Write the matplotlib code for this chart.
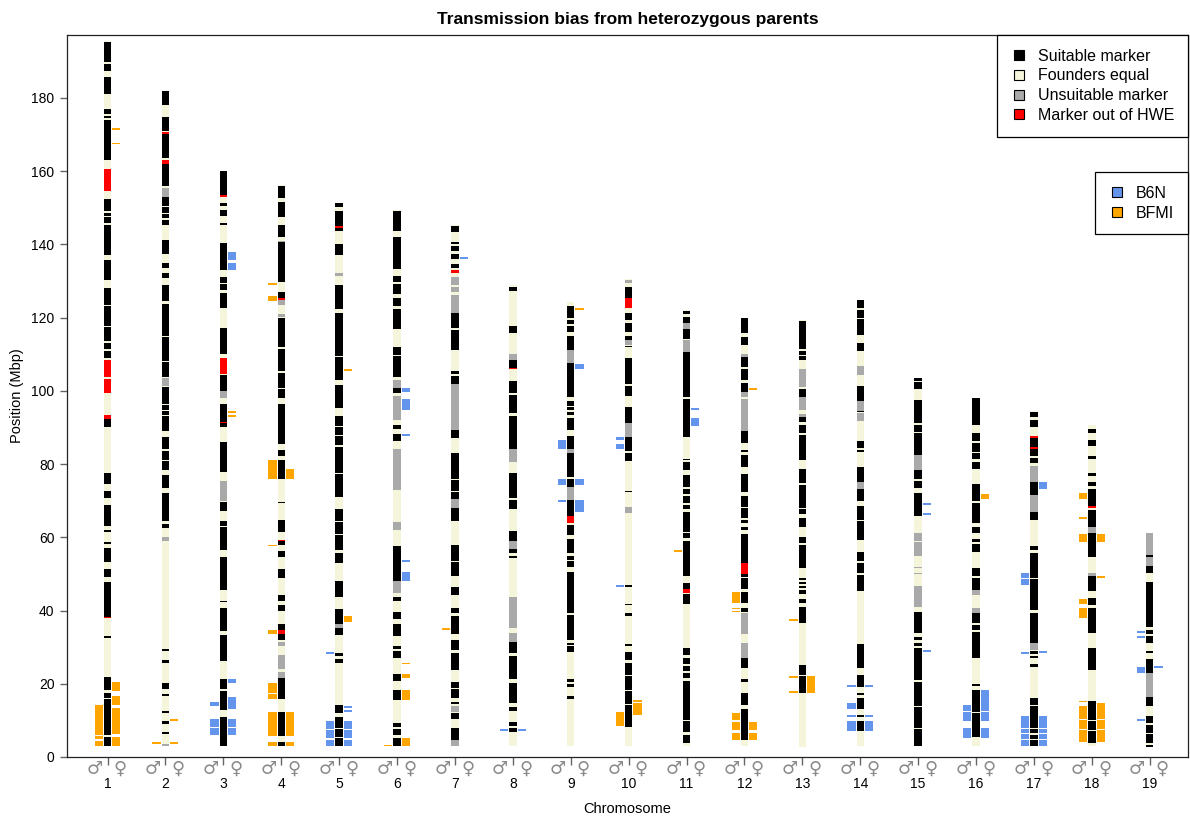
import matplotlib
matplotlib.use("Agg")
import matplotlib.pyplot as plt
from matplotlib.lines import Line2D

plt.rcParams['font.family'] = ['Liberation Sans', 'DejaVu Sans']

# chromosome extent (Mbp)
chromosomes = list(range(1, 20))
chr_start = [3.0, 3.0, 3.0, 2.9, 3.0, 2.9, 3.0, 3.0, 3.0, 3.0, 3.0, 3.0, 2.7, 3.0, 3.0, 3.0, 3.0, 3.0, 2.8]
chr_end = [195.5, 182.0, 160.0, 156.2, 151.3, 149.3, 145.3, 129.0, 124.2, 130.5,
           122.0, 120.0, 119.3, 124.8, 103.6, 98.1, 94.5, 90.8, 61.3]

# marker segments (Mbp)
suitable = {
    1: [(189.9, 195.4), (187.3, 189.3), (181.2, 185.8), (175.5, 176.9), (174.4, 175.2), (163.0, 174.1),
        (149.0, 152.4), (147.9, 148.6), (145.8, 147.6), (137.0, 145.4), (130.4, 135.7), (123.5, 128.1),
        (117.8, 123.2), (113.5, 117.5), (111.3, 113.2), (108.9, 111.0), (90.2, 92.2), (74.5, 77.6),
        (70.7, 72.6), (63.1, 68.7), (61.5, 62.1), (58.1, 58.6), (53.3, 57.1), (49.2, 51.4), (38.3, 47.8),
        (32.4, 33.0), (18.2, 21.9), (16.0, 17.6), (6.0, 15.7), (3.0, 5.5)],
    2: [(178.2, 182.0), (171.0, 174.9), (163.5, 170.2), (156.0, 162.0), (150.6, 152.9), (148.7, 150.3),
        (147.1, 148.4), (145.3, 146.8), (137.4, 141.3), (133.6, 134.9), (130.7, 132.3), (124.5, 129.0),
        (115.0, 123.6), (108.2, 114.7), (103.8, 107.9), (96.5, 101.1), (94.8, 96.2), (93.5, 94.5),
        (89.0, 93.2), (84.0, 87.4), (81.2, 83.7), (78.3, 80.9), (73.5, 77.0), (64.4, 72.0), (62.6, 63.6),
        (29.0, 29.5), (25.8, 26.4), (18.5, 20.2), (16.6, 17.2), (12.1, 12.6), (9.0, 9.7), (6.3, 6.8)],
    3: [(153.4, 160.0), (150.4, 151.3), (147.7, 149.4), (145.3, 145.8), (132.9, 140.5), (129.5, 131.1),
        (127.5, 129.2), (122.6, 126.6), (110.2, 117.2), (100.1, 104.2), (91.6, 96.5), (90.2, 91.2),
        (77.9, 85.9), (67.2, 69.7), (63.1, 64.4), (56.4, 62.8), (45.7, 54.5), (42.2, 42.5), (34.3, 40.6),
        (26.1, 33.3), (18.5, 21.4), (12.8, 17.9), (3.0, 10.9)],
    4: [(152.8, 156.0), (147.4, 151.7), (142.0, 145.3), (129.7, 140.6), (125.4, 127.0), (112.0, 120.0),
        (105.5, 111.4), (100.7, 104.8), (98.0, 100.5), (85.6, 96.4), (82.2, 83.8), (75.8, 81.1),
        (69.3, 69.7), (61.5, 64.7), (57.9, 59.0), (54.5, 56.3), (48.8, 51.3), (42.5, 44.3), (39.8, 41.6),
        (34.8, 36.2), (31.9, 33.5), (15.8, 21.7), (5.6, 12.4), (2.9, 4.0)],
    5: [(150.3, 151.2), (143.6, 149.0), (137.2, 140.2), (122.4, 128.8), (109.5, 121.4), (103.0, 109.3),
        (95.3, 101.5), (90.4, 93.2), (87.9, 90.2), (85.1, 87.7), (77.6, 84.6), (71.1, 77.3), (64.5, 67.7),
        (61.0, 64.2), (56.6, 60.6), (52.9, 55.6), (43.7, 48.0), (36.2, 40.3), (33.2, 35.1), (27.6, 28.4),
        (25.7, 26.8), (12.1, 14.2), (8.0, 11.0), (5.5, 7.7), (3.0, 5.2)],
    6: [(143.8, 149.0), (133.3, 142.0), (129.7, 131.3), (126.5, 129.1), (123.2, 125.4), (116.8, 122.4),
        (109.8, 112.0), (103.9, 109.5), (99.4, 100.9), (89.7, 90.8), (86.2, 88.1), (48.0, 57.6),
        (42.5, 43.8), (37.8, 39.5), (33.0, 36.2), (29.5, 30.4), (27.1, 29.0), (20.7, 22.8), (15.6, 18.2),
        (8.1, 9.4), (6.0, 7.6), (2.9, 5.1)],
    7: [(143.5, 145.0), (140.1, 140.7), (138.3, 139.6), (135.9, 137.4), (133.6, 134.7), (117.1, 121.4),
        (111.1, 116.5), (104.6, 105.4), (101.9, 104.1), (87.2, 89.2), (76.0, 82.9), (72.6, 75.7),
        (70.4, 72.4), (64.4, 67.9), (53.6, 57.9), (49.4, 53.2), (44.3, 46.5), (39.2, 40.8), (33.5, 38.6),
        (29.1, 31.9), (23.7, 28.4), (18.8, 20.5), (16.1, 18.6), (14.5, 15.0), (10.4, 12.1), (4.7, 7.8)],
    8: [(127.2, 128.5), (115.7, 117.6), (106.3, 108.4), (99.4, 102.6), (94.0, 98.8), (84.0, 93.2),
        (70.7, 77.7), (67.7, 70.1), (59.0, 61.7), (55.7, 56.8), (54.3, 54.9), (28.4, 31.3), (21.2, 27.7),
        (14.7, 20.1), (12.5, 13.6), (8.5, 9.6), (6.9, 8.0)],
    9: [(119.8, 123.1), (118.2, 119.3), (116.0, 117.6), (111.1, 114.9), (98.3, 107.6), (95.9, 97.2),
        (94.8, 95.7), (93.5, 94.3), (89.2, 92.7), (84.0, 87.8), (76.4, 82.9), (73.7, 75.8), (65.7, 70.1),
        (60.6, 63.3), (55.7, 59.5), (53.8, 54.9), (52.0, 53.6), (39.4, 50.5), (31.9, 38.9), (30.6, 31.0),
        (28.6, 30.2), (20.5, 21.2), (19.1, 19.9), (15.9, 16.7)],
    10: [(125.3, 128.5), (119.3, 121.3), (116.2, 118.6), (113.9, 115.0), (111.9, 112.2), (102.0, 108.9),
         (98.6, 101.3), (91.3, 95.5), (83.6, 87.3), (80.9, 82.9), (72.3, 72.7), (46.3, 46.9), (41.4, 41.9),
         (38.5, 39.4), (30.3, 30.8), (26.6, 28.7), (22.5, 25.7), (18.4, 22.2), (14.5, 18.1), (8.2, 14.2)],
    11: [(121.0, 121.9), (118.6, 120.3), (114.1, 116.8), (106.1, 110.7), (98.4, 105.9), (87.5, 97.7),
         (81.1, 81.5), (78.5, 80.6), (73.8, 76.9), (71.8, 73.1), (69.3, 71.3), (67.6, 68.8), (62.9, 67.0),
         (61.5, 62.7), (59.7, 61.1), (49.4, 59.0), (45.8, 47.4), (41.9, 44.5), (27.8, 29.9), (25.4, 26.9),
         (23.6, 24.8), (21.5, 23.0), (10.1, 20.8), (6.9, 9.9), (3.7, 6.0)],
    12: [(115.7, 119.8), (112.5, 114.8), (106.4, 109.3), (103.0, 105.9), (99.8, 102.2), (85.8, 89.1),
         (83.3, 83.8), (79.1, 82.5), (72.4, 77.3), (68.3, 71.3), (65.4, 67.9), (63.8, 64.7), (62.0, 62.9),
         (55.1, 60.9), (53.0, 55.1), (49.2, 49.9), (46.0, 48.8), (42.1, 45.1), (39.7, 40.8), (24.2, 26.9),
         (20.6, 21.2), (14.2, 17.5), (4.6, 13.2)],
    13: [(111.4, 119.2), (109.8, 111.0), (108.5, 109.6), (98.3, 100.5), (91.4, 92.8), (88.4, 90.7),
         (86.4, 88.0), (81.2, 86.2), (74.8, 78.6), (68.0, 74.3), (66.4, 67.7), (62.9, 65.2), (58.4, 60.2),
         (51.6, 57.9), (48.4, 49.0), (47.3, 47.9), (46.1, 46.7), (44.5, 45.6), (42.0, 43.1), (36.7, 41.1),
         (22.4, 25.1), (17.4, 22.0)],
    14: [(122.6, 124.7), (119.9, 122.1), (115.3, 119.6), (111.0, 113.2), (97.1, 101.2), (94.1, 94.4),
         (84.3, 86.2), (83.2, 83.9), (75.0, 79.3), (69.8, 73.1), (64.8, 68.6), (59.3, 64.5), (53.4, 56.1),
         (50.2, 53.1), (45.2, 49.7), (24.2, 30.9), (19.2, 22.4), (16.9, 17.4), (13.0, 16.0), (10.8, 11.5),
         (7.2, 9.7)],
    15: [(102.8, 103.5), (100.5, 102.3), (91.2, 97.5), (88.9, 90.7), (82.5, 88.4), (75.9, 78.4),
         (73.4, 75.3), (65.7, 72.2), (33.8, 39.7), (32.0, 32.9), (30.2, 31.2), (21.0, 29.7), (14.0, 20.6),
         (8.0, 13.6), (3.0, 7.6)],
    16: [(90.7, 98.0), (86.2, 88.4), (83.4, 85.7), (81.3, 83.1), (78.6, 80.7), (69.8, 74.6), (63.8, 69.5),
         (61.1, 62.9), (58.6, 59.5), (56.1, 58.2), (49.3, 51.5), (45.6, 48.8), (36.5, 39.2), (34.7, 36.1),
         (27.0, 34.2), (19.4, 19.9), (12.4, 18.3), (5.5, 12.1)],
    17: [(92.8, 94.3), (90.1, 92.1), (84.6, 87.0), (82.1, 84.0), (80.4, 81.6), (71.6, 75.0), (64.7, 67.0),
         (56.6, 57.5), (49.0, 55.8), (46.0, 48.5), (43.0, 45.8), (40.2, 42.8), (31.1, 39.2), (28.1, 29.0),
         (27.0, 27.6), (24.7, 25.4), (14.3, 16.0), (8.0, 14.0), (6.5, 7.6), (5.0, 6.1), (3.0, 4.6)],
    18: [(88.6, 89.5), (85.0, 86.6), (81.5, 82.2), (76.8, 77.7), (73.9, 75.2), (68.6, 73.1), (62.9, 67.5),
         (54.7, 61.1), (45.4, 49.3), (41.5, 43.3), (33.8, 40.6), (23.8, 29.7), (10.0, 15.4), (7.3, 9.7),
         (3.9, 7.0)],
    19: [(54.7, 55.2), (50.2, 52.2), (35.6, 47.9), (33.6, 34.7), (31.1, 33.1), (28.3, 29.0), (22.9, 26.7),
         (13.9, 16.5), (9.2, 11.2), (6.6, 8.7), (3.7, 6.3), (2.8, 3.3)],
}

unsuitable = {
    2: [(152.9, 155.3), (101.3, 103.5), (59.1, 60.2), (3.0, 3.6)],
    3: [(98.1, 100.1), (70.0, 75.4)],
    4: [(140.6, 141.0), (123.5, 124.8), (120.2, 121.1), (30.3, 31.4), (23.9, 27.9), (21.7, 23.1)],
    5: [(131.5, 132.2), (35.1, 36.2)],
    6: [(100.9, 103.0), (92.1, 98.7), (72.8, 84.0), (62.0, 64.2), (44.8, 48.0)],
    7: [(129.0, 131.2), (126.9, 128.5), (121.4, 126.3), (89.2, 101.9), (67.9, 70.4), (12.3, 14.0),
        (3.0, 4.7)],
    8: [(108.4, 110.0), (80.5, 84.0), (56.8, 59.0), (35.1, 43.8), (31.3, 33.8)],
    9: [(107.6, 111.1), (82.9, 84.0), (70.1, 73.7)],
    10: [(129.5, 130.3), (112.5, 113.9), (87.3, 91.1), (66.7, 68.3)],
    11: [(116.8, 118.6), (110.7, 113.9)],
    12: [(109.3, 110.2), (98.4, 99.8), (89.1, 97.9), (33.6, 39.4), (26.9, 31.2)],
    13: [(101.0, 105.9), (94.8, 98.3), (92.8, 93.7)],
    14: [(104.4, 106.7), (94.4, 97.1), (91.9, 93.9), (73.1, 75.0)],
    15: [(78.4, 82.5), (59.1, 61.3), (54.9, 58.6), (51.6, 52.0), (49.9, 50.2), (41.1, 46.7)],
    16: [(44.3, 45.6), (39.2, 40.6)],
    17: [(75.2, 79.5), (67.0, 71.6), (29.2, 31.1)],
    18: [(61.1, 62.9), (49.3, 50.2)],
    19: [(55.2, 61.1), (52.2, 54.7), (16.5, 22.9)],
}

out_of_hwe = {
    1: [(154.7, 160.7), (103.8, 108.3), (99.4, 103.2), (92.2, 93.4), (37.9, 38.3)],
    2: [(170.2, 170.6), (162.0, 163.0)],
    3: [(153.0, 153.4), (104.5, 108.9), (91.2, 91.6)],
    4: [(124.8, 125.4), (33.5, 34.8), (59.0, 59.4)],
    5: [(144.5, 145.0)],
    7: [(132.2, 133.0)],
    8: [(106.0, 106.3)],
    9: [(63.9, 65.7)],
    10: [(122.5, 125.3)],
    11: [(44.7, 45.8)],
    12: [(50.1, 53.0)],
    17: [(87.0, 87.7), (84.0, 84.6)],
    18: [(67.9, 68.6)],
}

# transmission bias blocks (Mbp), male = left of chromosome, female = right
b6n_male = {
    3: [(13.9, 15.0), (8.3, 10.5), (5.9, 8.0)],
    5: [(28.0, 28.6), (7.6, 9.9), (5.1, 7.3), (3.0, 4.6)],
    8: [(7.2, 7.7)],
    9: [(84.2, 86.7), (74.2, 75.8), (69.7, 70.2)],
    10: [(86.6, 87.3), (84.0, 85.6), (46.5, 47.0)],
    14: [(19.2, 19.7), (13.0, 14.8), (11.0, 11.5), (7.2, 9.7)],
    16: [(12.6, 14.2), (9.9, 12.3), (5.1, 7.8)],
    17: [(48.8, 50.2), (47.0, 48.5), (28.1, 28.6), (8.0, 11.2), (6.5, 7.7), (5.0, 6.2), (3.0, 4.7)],
    19: [(33.9, 34.4), (32.5, 33.0), (22.9, 24.7), (9.9, 10.4)],
}
b6n_female = {
    3: [(135.7, 138.0), (132.9, 135.0), (20.2, 21.3), (13.1, 16.4), (8.3, 10.5), (5.9, 8.0)],
    5: [(13.4, 13.9), (12.3, 12.8), (7.6, 9.9), (5.1, 7.3), (3.0, 4.6)],
    6: [(99.6, 100.9), (94.8, 97.7), (87.6, 88.1), (53.2, 53.7), (48.0, 50.4)],
    7: [(136.1, 136.6)],
    8: [(7.2, 7.7)],
    9: [(105.9, 107.3), (74.2, 75.8), (66.8, 70.1)],
    11: [(94.7, 95.2), (90.4, 92.5)],
    14: [(19.2, 19.7), (11.0, 11.5), (7.2, 9.7)],
    15: [(68.8, 69.3), (66.2, 66.7), (28.6, 29.1)],
    16: [(12.6, 18.3), (9.7, 12.3), (5.1, 7.8)],
    17: [(73.3, 75.0), (28.4, 28.9), (8.0, 11.2), (6.5, 7.7), (5.0, 6.2), (3.0, 4.7)],
    19: [(24.3, 24.8)],
}
bfmi_male = {
    1: [(6.1, 14.2), (4.8, 5.8), (3.0, 4.5)],
    2: [(3.6, 4.1)],
    4: [(128.9, 129.4), (124.5, 125.9), (75.8, 81.1), (57.5, 58.0), (33.5, 34.8), (17.6, 20.1),
        (15.8, 17.3), (5.6, 12.4), (2.9, 4.0)],
    6: [(2.9, 3.4)],
    7: [(34.6, 35.1)],
    10: [(8.4, 12.3)],
    11: [(55.9, 56.4)],
    12: [(42.1, 45.1), (40.4, 40.8), (39.5, 39.9), (10.1, 12.1), (7.4, 9.6), (4.6, 6.6)],
    13: [(37.1, 37.6), (21.6, 22.1), (17.4, 17.9)],
    18: [(70.6, 72.0), (65.0, 65.5), (58.6, 60.9), (41.8, 43.2), (37.9, 40.6), (14.9, 15.4),
         (10.3, 13.9), (7.6, 10.0), (4.2, 7.3)],
}
bfmi_female = {
    1: [(171.3, 171.8), (167.3, 167.8), (17.9, 20.4), (14.3, 16.6), (6.3, 13.4), (3.0, 5.5)],
    2: [(9.9, 10.4), (3.6, 4.1)],
    3: [(93.9, 94.5), (92.9, 93.4)],
    4: [(75.8, 78.6), (5.6, 12.4), (2.9, 4.0)],
    5: [(105.5, 106.0), (36.8, 38.4)],
    6: [(25.3, 25.8), (21.5, 22.8), (15.6, 18.2), (2.9, 5.1)],
    9: [(122.2, 122.7)],
    10: [(15.1, 15.6), (11.4, 14.8)],
    12: [(100.3, 100.8), (7.4, 9.6), (4.6, 6.6)],
    13: [(17.4, 22.0)],
    16: [(70.4, 71.8)],
    18: [(58.6, 60.9), (48.9, 49.4), (10.3, 14.8), (7.6, 10.0), (4.2, 7.3)],
}

BAR_W = 0.128
BLOCK_W = 0.143
BLOCK_OFF = 0.152


def draw_segments(ax, segs, offset, width, color):
    xs, bottoms, heights = [], [], []
    for chrom, ranges in segs.items():
        for s, e in ranges:
            xs.append(chrom + offset)
            bottoms.append(s)
            heights.append(e - s)
    ax.bar(xs, heights, width=width, bottom=bottoms, color=color, linewidth=0, align='center')


fig = plt.figure(figsize=(11.9, 8.18), dpi=100)
ax = fig.add_axes([0.0563, 0.0746, 0.9420, 0.8826])

# chromosome background
ax.bar(chromosomes, [e - s for s, e in zip(chr_start, chr_end)], width=BAR_W, bottom=chr_start,
       color='#F5F5DC', linewidth=0)
draw_segments(ax, suitable, 0, BAR_W, 'black')
draw_segments(ax, unsuitable, 0, BAR_W, '#A9A9A9')
draw_segments(ax, out_of_hwe, 0, BAR_W, 'red')

draw_segments(ax, b6n_male, -BLOCK_OFF, BLOCK_W, '#6495ED')
draw_segments(ax, b6n_female, BLOCK_OFF, BLOCK_W, '#6495ED')
draw_segments(ax, bfmi_male, -BLOCK_OFF, BLOCK_W, '#FFA500')
draw_segments(ax, bfmi_female, BLOCK_OFF, BLOCK_W, '#FFA500')

ax.set_xlim(0.3, 19.66)
ax.set_ylim(0, 197.2)
ax.set_yticks(range(0, 181, 20))
ax.set_xticks(chromosomes)
ax.set_xticklabels([str(c) for c in chromosomes])
ax.tick_params(axis='y', length=5, width=1, color='#666666', labelsize=10, pad=4)
ax.tick_params(axis='x', length=5.5, width=1, color='#666666', labelsize=10, pad=9)
for sp in ax.spines.values():
    sp.set_linewidth(0.9)
    sp.set_color('#222222')

for c in chromosomes:
    ax.annotate('\u2642', xy=(c - 0.22, 0), xycoords=ax.get_xaxis_transform(), xytext=(0, -8.5),
                textcoords='offset points', ha='center', va='center', fontsize=13, color='#8a8a8a',
                family=['DejaVu Sans'])
    ax.annotate('\u2640', xy=(c + 0.22, 0), xycoords=ax.get_xaxis_transform(), xytext=(0, -8.5),
                textcoords='offset points', ha='center', va='center', fontsize=13, color='#8a8a8a',
                family=['DejaVu Sans'])

ax.set_title('Transmission bias from heterozygous parents', fontsize=12.5, fontweight='bold', pad=8)
ax.set_ylabel('Position (Mbp)', fontsize=10.5, labelpad=5)
ax.set_xlabel('Chromosome', fontsize=10.5, labelpad=8)


def sq(color):
    return Line2D([], [], linestyle='none', marker='s', markersize=7.5, markerfacecolor=color,
                  markeredgecolor='black', markeredgewidth=0.8)


leg1 = ax.legend([sq('black'), sq('#F5F5DC'), sq('#A9A9A9'), sq('red')],
                 ['Suitable marker', 'Founders equal', 'Unsuitable marker', 'Marker out of HWE'],
                 loc='upper right', bbox_to_anchor=(1, 1), borderaxespad=0, fancybox=False,
                 edgecolor='black', framealpha=1, fontsize=11.5, handlelength=1.0,
                 handletextpad=0.7, labelspacing=0.3, borderpad=0.85)
leg1.get_frame().set_linewidth(0.9)
ax.add_artist(leg1)
leg2 = ax.legend([sq('#6495ED'), sq('#FFA500')], ['B6N', 'BFMI'],
                 loc='upper right', bbox_to_anchor=(1, 0.810), borderaxespad=0, fancybox=False,
                 edgecolor='black', framealpha=1, fontsize=11.5, handlelength=1.0,
                 handletextpad=0.7, labelspacing=0.3, borderpad=0.85)
leg2.get_frame().set_linewidth(0.9)

fig.savefig('out.png', dpi=100)
